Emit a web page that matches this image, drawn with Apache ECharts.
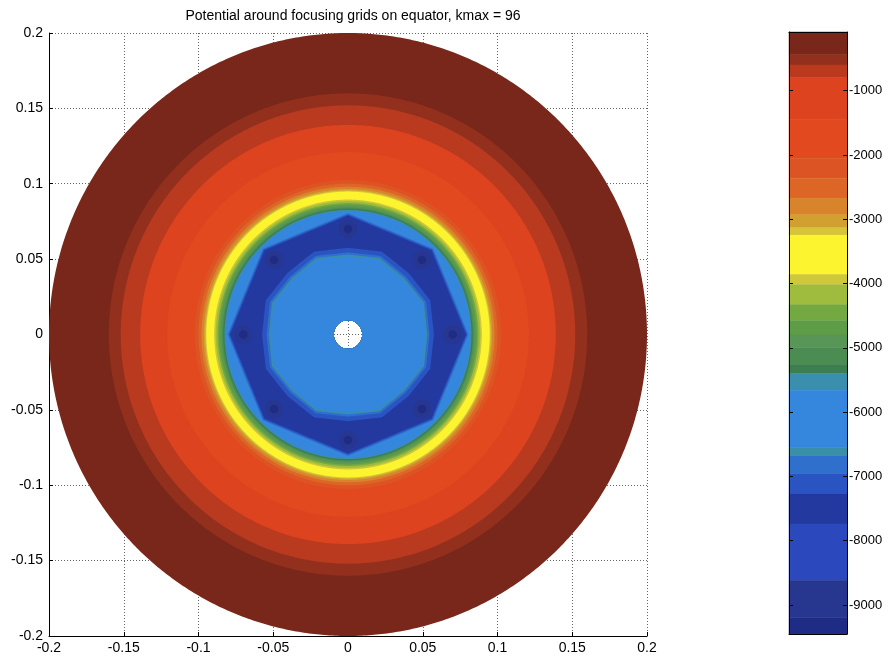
<!DOCTYPE html>
<html>
<head>
<meta charset="utf-8">
<script src="https://cdn.jsdelivr.net/npm/echarts@6/dist/echarts.min.js"></script>
<style>
  html, body { margin: 0; padding: 0; background: #fff; }
  #chart { width: 891px; height: 661px; }
</style>
</head>
<body>
<div id="chart"></div>
<script>
// Colour scale of the potential: band edges, top of the colour bar downwards
const bandEdges = [-87, -440, -600, -800, -1450, -2050, -2360, -2670, -2930, -3130, -3250,
  -3860, -4020, -4330, -4580, -4800, -5000, -5260, -5400, -5660, -6550, -6680, -6960,
  -7270, -7740, -8620, -9200, -9451];
const bandColors = ['#78271a', '#93301d', '#ba3a20', '#dc431e', '#e2491f', '#dc5423', '#dd6626',
  '#d8842c', '#d2a031', '#d8c43a', '#fbf42f', '#cfc83a', '#a0bc3e', '#74a840', '#5f9c48',
  '#579656', '#4a8c52', '#3d7e50', '#3a8eae', '#3487dc', '#3a8fa8', '#2f70cc', '#2a54c2',
  '#23399f', '#2b49bc', '#27368f', '#1f2c86'];
const colorbarTicks = [-9000, -8000, -7000, -6000, -5000, -4000, -3000, -2000, -1000];

// Equipotential contours, outermost first: potential filled inside each contour,
// its radius (m) toward a grid wire and midway between two wires
const contourPotential = [-200, -520, -700, -1100, -1750, -2200, -2500, -2800, -3030, -3190,
  -3550, -3940, -4170, -4450, -4690, -4900, -5130, -5330, -5530, -6100,
  -6820, -7100, -7500, -7100, -6820, -6610, -6100];
const contourRadiusWire = [0.200, 0.160, 0.152, 0.139, 0.121, 0.1025, 0.1000, 0.0980, 0.0965, 0.0955,
  0.0948, 0.0895, 0.0885, 0.0872, 0.0862, 0.0852, 0.0842, 0.0834, 0.0826, 0.0818,
  0.0805, 0.0798, 0.0790, 0.0575, 0.0545, 0.0530, 0.0520];
const contourRadiusMid = [0.200, 0.160, 0.152, 0.139, 0.121, 0.1025, 0.1000, 0.0980, 0.0965, 0.0955,
  0.0948, 0.0895, 0.0885, 0.0872, 0.0862, 0.0852, 0.0842, 0.0834, 0.0826, 0.0818,
  0.0745, 0.0738, 0.0730, 0.0595, 0.0565, 0.0550, 0.0540];

// Focusing grid wires on the equator
const wireAngleDeg = [0, 45, 90, 135, 180, 225, 270, 315];
const wireRadius = 0.070;
const wireCorePotential = [-8900, -9300];
const wireCoreRadius = [0.0060, 0.0028];
const holeRadius = 0.0095;

function colorOf(v) {
  for (let i = 0; i < bandColors.length; i++) {
    if (v <= bandEdges[i] && v >= bandEdges[i + 1]) return bandColors[i];
  }
  return v > bandEdges[0] ? bandColors[0] : bandColors[bandColors.length - 1];
}

// Contour outline at angle (deg): a circle when both radii agree, otherwise a
// polygon with straight edges between the wire and mid-way vertices
function contourRadiusAt(rw, rm, deg) {
  if (rw === rm) return rw;
  const sector = 360 / wireAngleDeg.length, half = sector / 2;
  const base = Math.floor(deg / half) * half;
  const onWire = Math.round(base / half) % 2 === 0;
  const r0 = onWire ? rw : rm, r1 = onWire ? rm : rw;
  const t0 = base * Math.PI / 180, t1 = (base + half) * Math.PI / 180, t = deg * Math.PI / 180;
  const ax = r0 * Math.cos(t0), ay = r0 * Math.sin(t0);
  const bx = r1 * Math.cos(t1), by = r1 * Math.sin(t1);
  const ux = Math.cos(t), uy = Math.sin(t);
  const dx = bx - ax, dy = by - ay;
  return (ax * by - ay * bx) / (ux * dy - uy * dx);
}

function loopPath(api, radiusFn, cx, cy, reverse) {
  const n = 720;
  let s = '';
  for (let k = 0; k <= n; k++) {
    const deg = ((reverse ? (n - k) : k) * 360 / n) % 360;
    const r = radiusFn(deg);
    const a = deg * Math.PI / 180;
    const p = api.coord([cx + r * Math.cos(a), cy + r * Math.sin(a)]);
    s += (k === 0 ? 'M' : 'L') + p[0].toFixed(2) + ' ' + p[1].toFixed(2);
  }
  return s + 'Z';
}

function renderContour(params, api) {
  const i = api.value(0);
  const rw = contourRadiusWire[i], rm = contourRadiusMid[i];
  const outer = loopPath(api, deg => contourRadiusAt(rw, rm, deg), 0, 0, false);
  const hole = loopPath(api, () => holeRadius, 0, 0, true);
  return {
    type: 'path',
    shape: { pathData: outer + hole },
    style: { fill: colorOf(contourPotential[i]), stroke: null }
  };
}

function renderWire(params, api) {
  const w = api.value(0), c = api.value(1);
  const a = wireAngleDeg[w] * Math.PI / 180;
  const cx = wireRadius * Math.cos(a), cy = wireRadius * Math.sin(a);
  return {
    type: 'path',
    shape: { pathData: loopPath(api, () => wireCoreRadius[c], cx, cy, false) },
    style: { fill: colorOf(wireCorePotential[c]), stroke: null }
  };
}

function renderBand(params, api) {
  const i = api.value(0);
  const p0 = api.coord([0, bandEdges[i]]);
  const p1 = api.coord([1, bandEdges[i + 1]]);
  return {
    type: 'rect',
    shape: { x: p0[0], y: p0[1], width: p1[0] - p0[0], height: p1[1] - p0[1] },
    style: { fill: bandColors[i], stroke: bandColors[i], lineWidth: 0.5 }
  };
}

const fmt = v => String(Number(v.toFixed(2)));
const font = 'Liberation Sans, Arial, sans-serif';
const gridLine = { show: true, lineStyle: { color: '#666', width: 1, type: [1, 2] } };

const wireItems = [];
wireCoreRadius.forEach((_, c) => wireAngleDeg.forEach((_, w) => wireItems.push([w, c])));

const chart = echarts.init(document.getElementById('chart'), null, { renderer: 'canvas' });
chart.setOption({
  animation: false,
  backgroundColor: '#fff',
  title: {
    text: 'Potential around focusing grids on equator, kmax = 96',
    left: 348, top: 4, textAlign: 'center',
    textStyle: { fontSize: 14, fontWeight: 'normal', color: '#000', fontFamily: font }
  },
  grid: [
    { left: 49, top: 33, width: 598, height: 603 },
    { left: 789, top: 32, width: 58, height: 602 }
  ],
  xAxis: [
    {
      gridIndex: 0, type: 'value', min: -0.2, max: 0.2, interval: 0.05,
      axisLine: { onZero: false, lineStyle: { color: '#000', width: 1 } },
      axisTick: { inside: true, length: 4, lineStyle: { color: '#000' } },
      axisLabel: { color: '#000', fontSize: 14, fontFamily: font, margin: 5, formatter: fmt },
      splitLine: gridLine
    },
    { gridIndex: 1, type: 'value', min: 0, max: 1, show: true, z: 5,
      axisLine: { onZero: false, lineStyle: { color: '#000' } },
      axisTick: { show: false }, axisLabel: { show: false }, splitLine: { show: false } },
    { gridIndex: 1, type: 'value', min: 0, max: 1, position: 'top', z: 5,
      axisLine: { onZero: false, lineStyle: { color: '#000' } },
      axisTick: { show: false }, axisLabel: { show: false }, splitLine: { show: false } }
  ],
  yAxis: [
    {
      gridIndex: 0, type: 'value', min: -0.2, max: 0.2, interval: 0.05,
      axisLine: { onZero: false, lineStyle: { color: '#000', width: 1 } },
      axisTick: { inside: true, length: 4, lineStyle: { color: '#000' } },
      axisLabel: { color: '#000', fontSize: 14, fontFamily: font, margin: 6, formatter: fmt },
      splitLine: gridLine
    },
    {
      gridIndex: 1, type: 'value', min: bandEdges[bandEdges.length - 1], max: bandEdges[0],
      position: 'right', z: 5,
      axisLine: { onZero: false, lineStyle: { color: '#000' } },
      axisTick: { inside: true, length: 4, customValues: colorbarTicks, lineStyle: { color: '#000' } },
      axisLabel: { customValues: colorbarTicks, color: '#000', fontSize: 13, fontFamily: font,
        margin: 2, formatter: v => String(v) },
      splitLine: { show: false }
    },
    {
      gridIndex: 1, type: 'value', min: bandEdges[bandEdges.length - 1], max: bandEdges[0],
      position: 'left', z: 5,
      axisLine: { onZero: false, lineStyle: { color: '#000' } },
      axisTick: { inside: true, length: 4, customValues: colorbarTicks, lineStyle: { color: '#000' } },
      axisLabel: { show: false },
      splitLine: { show: false }
    }
  ],
  series: [
    {
      type: 'custom', name: 'potential', xAxisIndex: 0, yAxisIndex: 0,
      renderItem: renderContour,
      data: contourPotential.map((_, i) => [i]),
      encode: { x: [], y: [] }, silent: true
    },
    {
      type: 'custom', name: 'wires', xAxisIndex: 0, yAxisIndex: 0,
      renderItem: renderWire,
      data: wireItems,
      encode: { x: [], y: [] }, silent: true
    },
    {
      type: 'custom', name: 'colorbar', xAxisIndex: 1, yAxisIndex: 1,
      renderItem: renderBand,
      data: bandColors.map((_, i) => [i]),
      encode: { x: [], y: [] }, silent: true
    }
  ]
});
</script>
</body>
</html>
